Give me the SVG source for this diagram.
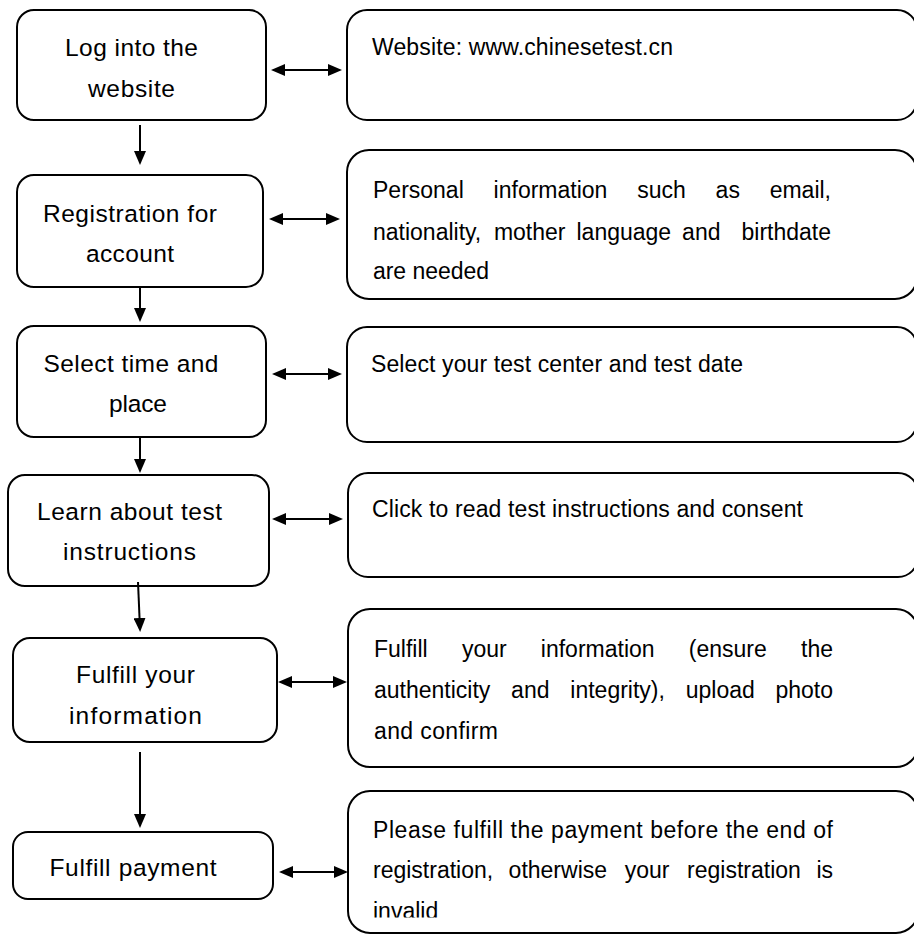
<svg xmlns="http://www.w3.org/2000/svg" width="914" height="935" viewBox="0 0 914 935">
<style>
.box{fill:#fff;stroke:#000;stroke-width:2}
text{font-family:"Liberation Sans",Arial,sans-serif;font-size:23px;fill:#000}
.c{text-anchor:middle;font-size:24.5px}
.e{text-anchor:end}
.conn line{stroke:#000;stroke-width:2;fill:none}
</style>
<defs>
<marker id="ah" viewBox="0 0 14 12" markerWidth="14" markerHeight="12" refX="11" refY="6" orient="auto-start-reverse" markerUnits="userSpaceOnUse">
<path d="M0,0 L14,6 L0,12 z" fill="#000"/>
</marker>
<clipPath id="clip6"><rect x="340" y="780" width="580" height="137.5"/></clipPath>
</defs>
<rect width="914" height="935" fill="#fff"/>

<g id="step1">
<rect class="box" x="17" y="10" width="249" height="110" rx="17"/>
<text class="c" x="131.5" y="56" textLength="133">Log into the</text>
<text class="c" x="131.5" y="97" textLength="87">website</text>
</g>
<g id="info1">
<rect class="box" x="347" y="10" width="570" height="110" rx="20"/>
<text x="372" y="55" textLength="301">Website: www.chinesetest.cn</text>
</g>

<g id="step2">
<rect class="box" x="17" y="175" width="246" height="112" rx="17"/>
<text class="c" x="130" y="222" textLength="174">Registration for</text>
<text class="c" x="130" y="262" textLength="88">account</text>
</g>
<g id="info2">
<rect class="box" x="347" y="150" width="570" height="149" rx="22"/>
<text x="373" y="198">Personal</text>
<text x="493.6" y="198">information</text>
<text x="637.2" y="198">such</text>
<text x="715.6" y="198">as</text>
<text class="e" x="831" y="198">email,</text>
<text x="373" y="240">nationality,</text>
<text x="493.9" y="240">mother</text>
<text x="576.5" y="240">language</text>
<text x="682.1" y="240">and</text>
<text class="e" x="831" y="240">birthdate</text>
<text x="373" y="279" textLength="116">are needed</text>
</g>

<g id="step3">
<rect class="box" x="17" y="326" width="249" height="111" rx="17"/>
<text class="c" x="131" y="372" textLength="175">Select time and</text>
<text class="c" x="138" y="412" textLength="58">place</text>
</g>
<g id="info3">
<rect class="box" x="347" y="327" width="570" height="115" rx="20"/>
<text x="371" y="372" textLength="372">Select your test center and test date</text>
</g>

<g id="step4">
<rect class="box" x="8" y="475" width="261" height="111" rx="17"/>
<text class="c" x="129.5" y="520" textLength="185">Learn about test</text>
<text class="c" x="129.5" y="560" textLength="133">instructions</text>
</g>
<g id="info4">
<rect class="box" x="348" y="473" width="570" height="104" rx="20"/>
<text x="372" y="517" textLength="431">Click to read test instructions and consent</text>
</g>

<g id="step5">
<rect class="box" x="13" y="638" width="264" height="104" rx="17"/>
<text class="c" x="135.5" y="683" textLength="119">Fulfill your</text>
<text class="c" x="135.5" y="724" textLength="133">information</text>
</g>
<g id="info5">
<rect class="box" x="348" y="609" width="570" height="158" rx="22"/>
<text x="374" y="657">Fulfill</text>
<text x="461.9" y="657">your</text>
<text x="540.8" y="657">information</text>
<text x="688.8" y="657">(ensure</text>
<text class="e" x="833" y="657">the</text>
<text x="374" y="698">authenticity</text>
<text x="511.1" y="698">and</text>
<text x="570.3" y="698">integrity),</text>
<text x="685.7" y="698">upload</text>
<text class="e" x="833" y="698">photo</text>
<text x="374" y="739" textLength="124">and confirm</text>
</g>

<g id="step6">
<rect class="box" x="13" y="832" width="260" height="67" rx="15"/>
<text class="c" x="133" y="876" textLength="167">Fulfill payment</text>
</g>
<g id="info6">
<rect class="box" x="348" y="791" width="570" height="142" rx="22"/>
<text x="373" y="838" textLength="460">Please fulfill the payment before the end of</text>
<text x="373" y="878">registration,</text>
<text x="508.6" y="878">otherwise</text>
<text x="624.7" y="878">your</text>
<text x="687.1" y="878">registration</text>
<text class="e" x="833" y="878">is</text>
<text x="373" y="919" clip-path="url(#clip6)">invalid</text>
</g>

<g id="connectors" class="conn">
<line x1="274" y1="70" x2="339" y2="70" marker-start="url(#ah)" marker-end="url(#ah)"/>
<line x1="272" y1="219" x2="337" y2="219" marker-start="url(#ah)" marker-end="url(#ah)"/>
<line x1="275" y1="374" x2="339" y2="374" marker-start="url(#ah)" marker-end="url(#ah)"/>
<line x1="275" y1="519" x2="340" y2="519" marker-start="url(#ah)" marker-end="url(#ah)"/>
<line x1="281" y1="682" x2="344" y2="682" marker-start="url(#ah)" marker-end="url(#ah)"/>
<line x1="282" y1="872" x2="345" y2="872" marker-start="url(#ah)" marker-end="url(#ah)"/>
<line x1="140" y1="125" x2="140" y2="162" marker-end="url(#ah)"/>
<line x1="140" y1="288" x2="140" y2="319" marker-end="url(#ah)"/>
<line x1="140" y1="438" x2="140" y2="470" marker-end="url(#ah)"/>
<line x1="138" y1="582" x2="140" y2="629" marker-end="url(#ah)"/>
<line x1="140" y1="752" x2="140" y2="825" marker-end="url(#ah)"/>
</g>
</svg>
